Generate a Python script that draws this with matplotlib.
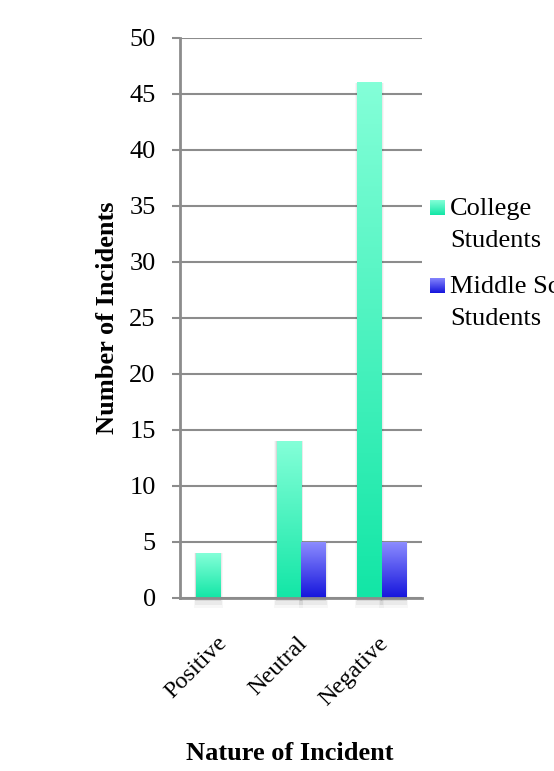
import numpy as np
import matplotlib
matplotlib.use("Agg")
import matplotlib.pyplot as plt
from matplotlib.colors import LinearSegmentedColormap
from matplotlib.patches import Rectangle

# data
categories = ["Positive", "Neutral", "Negative"]
college = [4, 14, 46]
middle = [0, 5, 5]
series_names = [["College", "Students"], ["Middle School", "Students"]]

plt.rcParams['font.family'] = ['Liberation Serif', 'DejaVu Serif']

W, H = 554, 771
fig = plt.figure(figsize=(W / 100, H / 100), dpi=100)
ax = fig.add_axes([180 / W, 1 - 598 / H, 242 / W, 560 / H])

# gradients: bottom colour -> top colour
green_cm = LinearSegmentedColormap.from_list("g", ["#12e6a6", "#84ffd8"])
blue_cm = LinearSegmentedColormap.from_list("b", ["#1414dc", "#8c8cff"])
grad = np.linspace(0, 1, 256).reshape(-1, 1)

x = np.arange(len(categories))
bw = 0.3
grid_col = "#8c8c8c"


def gradient_bars(xs, vals, cmap):
    bars = ax.bar(xs, vals, bw, color="none", zorder=3)
    for b in bars:
        bx, by = b.get_x(), b.get_y()
        w, h = b.get_width(), b.get_height()
        if h <= 0:
            continue
        # soft shadow
        for k, a in enumerate([0.08, 0.05, 0.03]):
            d = 0.01 * (k + 1)
            ax.add_patch(Rectangle((bx - d, -0.3 * (k + 1)), w + 2 * d, h + 0.3 * (k + 1),
                                   facecolor="black", alpha=a, lw=0, zorder=2,
                                   clip_on=False))
        ax.imshow(grad, cmap=cmap, origin="lower", aspect="auto",
                  extent=[bx, bx + w, by, by + h], zorder=3)


gradient_bars(x - bw / 2, college, green_cm)
gradient_bars(x + bw / 2, middle, blue_cm)
ax.set_xlim(-0.5, len(categories) - 0.5)
ax.set_ylim(0, 50)

ax.set_yticks(range(0, 51, 5))
ax.yaxis.grid(True, color=grid_col, lw=1.5, zorder=1)
ax.set_axisbelow(True)
for s in ["top", "right"]:
    ax.spines[s].set_visible(False)
for s in ["left", "bottom"]:
    ax.spines[s].set_color(grid_col)
    ax.spines[s].set_linewidth(2)
ax.spines["bottom"].set_zorder(4)
ax.tick_params(axis="y", length=6, width=1.5, color=grid_col, labelsize=19, pad=11.5)
ax.tick_params(axis="x", length=0, labelsize=17.5, pad=25)
ax.set_xticks(x - 0.05)
ax.set_xticklabels(categories, rotation=45, ha="right", rotation_mode="anchor")

ax.set_ylabel("Number of Incidents", fontsize=19, fontweight="bold", labelpad=7.5)
fig.text(290 / W, 1 - 760 / H, "Nature of Incident", fontsize=19, fontweight="bold",
         ha="center", va="baseline")

# legend drawn by hand so the swatches can carry the gradient
for i, (lines, cmap) in enumerate(zip(series_names, [green_cm, blue_cm])):
    base = 215 + i * 78
    sax = fig.add_axes([430 / W, 1 - base / H, 15 / W, 15 / H])
    sax.imshow(grad, cmap=cmap, origin="lower", aspect="auto")
    sax.axis("off")
    for j, txt in enumerate(lines):
        fig.text(450 / W, 1 - (base + 32 * j) / H, txt, fontsize=19,
                 ha="left", va="baseline")

fig.savefig("out.png", dpi=100)
